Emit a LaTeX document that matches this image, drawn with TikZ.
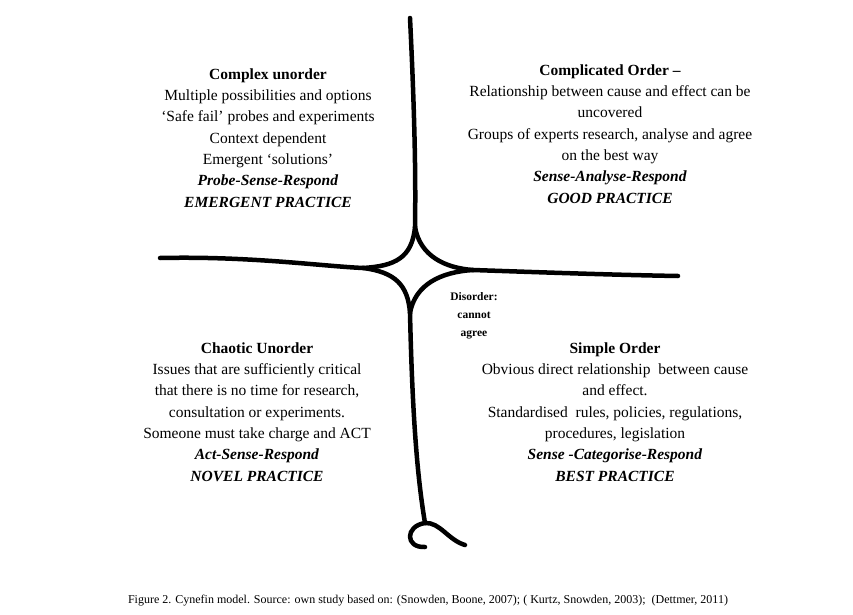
\documentclass[tikz,border=0pt]{standalone}
\usepackage{fontspec}
\setmainfont{Liberation Serif}
\usetikzlibrary{positioning}
\tikzset{
    % Thick hand-drawn looking boundary
    boundary/.style={line width=4.5pt, line cap=round, line join=round},
%
    % Text block of one domain
    domain text/.style={align=center, anchor=north,
        font=\fontsize{15.5}{21.3}\selectfont},
%
    % Small bold label in the centre
    centre text/.style={align=center, font=\fontsize{11.5}{18}\selectfont\bfseries}}

\begin{document}
\begin{tikzpicture}[x=1pt, y=-1pt]

\useasboundingbox (0,0) rectangle (853,615);

% Cusps of the central star
\coordinate (top) at (415,227);
\coordinate (left) at (363,268);
\coordinate (right) at (473,270);
\coordinate (bottom) at (410,313);

\draw [boundary] (410,18) .. controls (414,100) and (416,170) .. (top);
\draw [boundary] (160,258) .. controls (250,256) and (320,266) .. (left);
\draw [boundary] (right) .. controls (560,273) and (620,275) .. (678,276);
\draw [boundary] (bottom) .. controls (412,400) and (416,470) .. (425,523)
    .. controls (405,526) and (405,548) .. (425,547);
\draw [boundary] (425,523) .. controls (440,522) and (448,540) .. (465,545);

\draw [boundary] (top) .. controls (412,258) and (395,266) .. (left);
\draw [boundary] (top) .. controls (420,256) and (445,268) .. (right);
\draw [boundary] (left) .. controls (395,272) and (408,285) .. (bottom);
\draw [boundary] (right) .. controls (440,272) and (415,285) .. (bottom);

\node [domain text] (complex) at (268,65) {
    \textbf{Complex unorder}\\
    Multiple possibilities and options\\
    ‘Safe fail’ probes and experiments\\
    Context dependent\\
    Emergent ‘solutions’\\
    \textbf{\textit{Probe-Sense-Respond}}\\
    \textbf{\textit{EMERGENT PRACTICE}}};

\node [domain text] (complicated) at (610,61) {
    \textbf{Complicated Order –}\\
    Relationship between cause and effect can be\\
    uncovered\\
    Groups of experts research, analyse and agree\\
    on the best way\\
    \textbf{\textit{Sense-Analyse-Respond}}\\
    \textbf{\textit{GOOD PRACTICE}}};

\node [domain text] (chaotic) at (257,339) {
    \textbf{Chaotic Unorder}\\
    Issues that are sufficiently critical\\
    that there is no time for research,\\
    consultation or experiments.\\
    Someone must take charge and ACT\\
    \textbf{\textit{Act-Sense-Respond}}\\
    \textbf{\textit{NOVEL PRACTICE}}};

\node [domain text] (simple) at (615,339) {
    \textbf{Simple Order}\\
    Obvious direct relationship\ \ between cause\\
    and effect.\\
    Standardised\ \ rules, policies, regulations,\\
    procedures, legislation\\
    \textbf{\textit{Sense -Categorise-Respond}}\\
    \textbf{\textit{BEST PRACTICE}}};

\node [centre text] (disorder) at (474,316) {Disorder:\\cannot\\agree};

\node [font=\fontsize{12}{14}\selectfont] (caption) at (428,601)
    {Figure 2. Cynefin model. Source: own study based on: (Snowden, Boone, 2007); ( Kurtz, Snowden, 2003);\ \ (Dettmer, 2011)};

\end{tikzpicture}
\end{document}
